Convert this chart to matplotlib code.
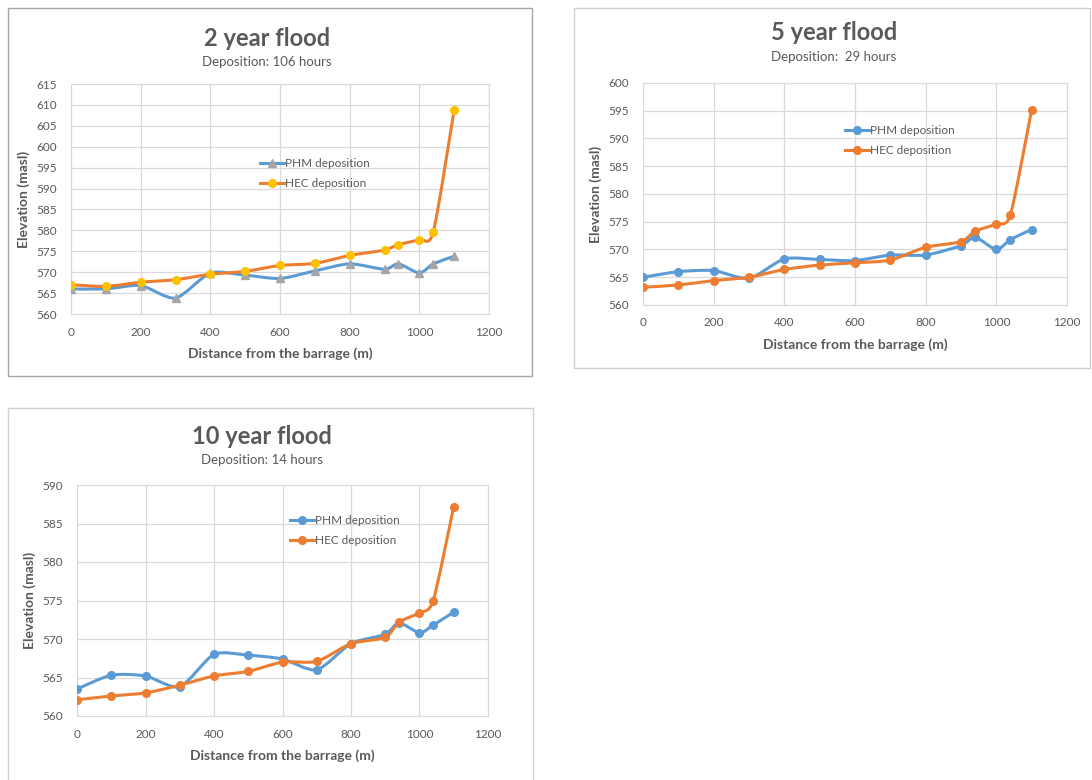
import matplotlib.pyplot as plt
import numpy as np
from matplotlib.path import Path
from matplotlib.patches import PathPatch, Rectangle
from matplotlib.lines import Line2D

plt.rcParams['font.family'] = ['Lato', 'DejaVu Sans']

distance = [0, 100, 200, 300, 400, 500, 600, 700, 800, 900, 940, 1000, 1040, 1100]

phm_2yr = [566, 566, 566.8, 563.8, 569.8, 569.3, 568.5, 570.3, 572, 570.7, 572, 569.8, 572, 573.8]
hec_2yr = [567, 566.6, 567.6, 568.2, 569.5, 570.2, 571.6, 572.1, 574, 575.3, 576.6, 577.8, 579.6, 608.8]

phm_5yr = [565, 566, 566.2, 564.8, 568.3, 568.2, 568, 569, 569, 570.7, 572.2, 570, 571.8, 573.6]
hec_5yr = [563.2, 563.6, 564.4, 565, 566.4, 567.2, 567.6, 568.1, 570.4, 571.4, 573.3, 574.6, 576.3, 595.2]

phm_10yr = [563.5, 565.3, 565.2, 563.8, 568, 567.9, 567.4, 566, 569.4, 570.6, 572.1, 570.8, 571.8, 573.5]
hec_10yr = [562.1, 562.6, 563, 564, 565.2, 565.8, 567, 567.1, 569.4, 570.2, 572.2, 573.4, 575, 587.2]

BLUE = '#5B9BD5'
ORANGE = '#ED7D31'
GRAY_TXT = '#595959'
W, H = 1092, 780

fig = plt.figure(figsize=(W / 100, H / 100), dpi=100)


def px_axes(x0, y0, x1, y1):
    # pixel box (top-left origin) -> figure axes
    return fig.add_axes([x0 / W, 1 - y1 / H, (x1 - x0) / W, (y1 - y0) / H])


def smooth_line(ax, x, y, color):
    # Excel-like smoothed line: cubic bezier through the points
    x = np.asarray(x, float)
    y = np.asarray(y, float)
    pts = np.column_stack([x, y])
    n = len(pts)
    verts = [pts[0]]
    codes = [Path.MOVETO]
    for i in range(n - 1):
        p0 = pts[i - 1] if i > 0 else pts[i]
        p1 = pts[i]
        p2 = pts[i + 1]
        p3 = pts[i + 2] if i + 2 < n else pts[i + 1]
        c1 = p1 + (p2 - p0) / 8
        c2 = p2 - (p3 - p1) / 8
        verts += [c1, c2, p2]
        codes += [Path.CURVE4] * 3
    ax.add_patch(PathPatch(Path(verts, codes), fill=False, edgecolor=color,
                           lw=2.2, capstyle='round', joinstyle='round', zorder=3))


def panel(box, edge, axbox, ylim, phm, hec, title, sub, tpos, legpos, mk_phm, mk_hec):
    bx0, by0, bx1, by1 = box
    fig.add_artist(Rectangle((bx0 / W, 1 - by1 / H), (bx1 - bx0) / W, (by1 - by0) / H,
                             transform=fig.transFigure, fill=False,
                             edgecolor=edge, lw=1))
    ax = px_axes(*axbox)
    smooth_line(ax, distance, phm, BLUE)
    smooth_line(ax, distance, hec, ORANGE)
    ax.plot(distance, phm, ls='none', marker=mk_phm[0], color=mk_phm[1], ms=5.5, zorder=4)
    ax.plot(distance, hec, ls='none', marker=mk_hec[0], color=mk_hec[1], ms=5.5, zorder=4)
    ax.set_xlim(0, 1200)
    ax.set_ylim(*ylim)
    ax.set_xticks(np.arange(0, 1201, 200))
    ax.set_yticks(np.arange(ylim[0], ylim[1] + 1, 5))
    ax.grid(color='#D9D9D9', lw=0.9)
    ax.set_axisbelow(True)
    for s in ax.spines.values():
        s.set_color('#D9D9D9')
    ax.tick_params(axis='x', length=0, labelsize=8.5, labelcolor=GRAY_TXT, pad=9)
    ax.tick_params(axis='y', length=0, labelsize=8.5, labelcolor=GRAY_TXT, pad=10)
    ax.set_xlabel('Distance from the barrage (m)', fontsize=10, fontweight='bold',
                  color=GRAY_TXT, labelpad=7)
    ax.set_ylabel('Elevation (masl)', fontsize=10, fontweight='bold',
                  color=GRAY_TXT, labelpad=5)
    fig.text(tpos[0] / W, 1 - tpos[1] / H, title, ha='center', va='center',
             fontsize=17, fontweight='bold', color=GRAY_TXT)
    fig.text(tpos[0] / W, 1 - (tpos[1] + 24) / H, sub, ha='center', va='center',
             fontsize=9.5, color=GRAY_TXT)
    handles = [Line2D([], [], color=BLUE, lw=2.2, marker=mk_phm[0], mfc=mk_phm[1],
                      mec=mk_phm[1], ms=5.5),
               Line2D([], [], color=ORANGE, lw=2.2, marker=mk_hec[0], mfc=mk_hec[1],
                      mec=mk_hec[1], ms=5.5)]
    ax.legend(handles, ['PHM deposition', 'HEC deposition'], frameon=False,
              loc='upper left', bbox_to_anchor=(legpos[0] / W, 1 - legpos[1] / H),
              bbox_transform=fig.transFigure, fontsize=8.5, labelcolor=GRAY_TXT,
              handlelength=2.0, handletextpad=0.15, labelspacing=0.8, borderpad=0)
    return ax


panel((8, 8, 532, 376), '#A6A6A6', (71, 84, 489, 314), (560, 615), phm_2yr, hec_2yr,
      '2 year flood', 'Deposition: 106 hours', (267, 38), (254, 152),
      ('^', '#A5A5A5'), ('o', '#FFC000'))
panel((574, 8, 1090, 368), '#D0D0D0', (643, 83, 1067, 305), (560, 600), phm_5yr, hec_5yr,
      '5 year flood', 'Deposition:  29 hours', (834, 33), (839, 119),
      ('o', BLUE), ('o', ORANGE))
panel((8, 408, 533, 790), '#D0D0D0', (77, 485, 488, 716), (560, 590), phm_10yr, hec_10yr,
      '10 year flood', 'Deposition: 14 hours', (262, 436), (284, 509),
      ('o', BLUE), ('o', ORANGE))

fig.savefig('out.png', dpi=100, facecolor='white')
